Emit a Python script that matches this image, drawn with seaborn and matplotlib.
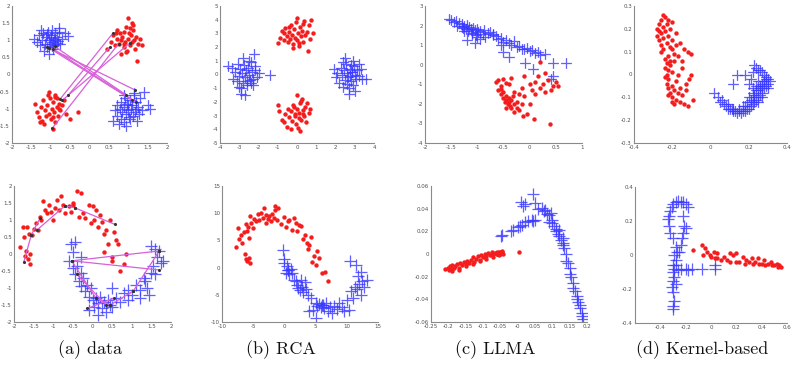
import numpy as np
import pandas as pd
import matplotlib
matplotlib.use("Agg")
import matplotlib.pyplot as plt
import seaborn as sns
from matplotlib.ticker import FormatStrFormatter

# ---------------- DATA ----------------
# (a) data, top: four blobs
a1_blue1_x = [-1.42, -1.35, -1.3, -1.28, -1.22, -1.2, -1.15, -1.12, -1.1, -1.08, -1.05, -1.02, -1.0, -0.98, -0.95, -0.92, -0.9, -0.88, -0.85, -0.82, -0.8, -0.75, -0.7, -0.62, -0.55, -1.18, -1.05, -0.95, -0.9, -1.25, -1.0, -0.85, -1.1, -0.78, -0.97]
a1_blue1_y = [1.05, 0.95, 1.15, 0.85, 1.0, 1.2, 0.9, 1.1, 0.8, 1.25, 1.0, 0.88, 1.15, 1.3, 0.95, 1.05, 1.2, 0.85, 1.1, 0.98, 1.35, 0.9, 1.05, 1.2, 1.12, 0.7, 0.6, 0.75, 1.0, 1.3, 1.08, 0.92, 1.18, 1.25, 0.82]
a1_blue2_x = [0.6, 0.65, 0.7, 0.72, 0.78, 0.8, 0.82, 0.85, 0.88, 0.9, 0.92, 0.95, 0.98, 1.0, 1.02, 1.05, 1.08, 1.1, 1.12, 1.15, 1.18, 1.2, 1.22, 1.25, 1.3, 1.35, 1.4, 1.5, 1.55, 0.75, 0.95, 1.05, 1.15, 1.28, 0.88, 1.0, 1.2]
a1_blue2_y = [-1.35, -1.05, -0.9, -1.2, -1.0, -1.3, -0.8, -1.1, -0.95, -1.4, -0.7, -1.15, -0.85, -1.05, -1.25, -0.75, -1.0, -0.9, -1.2, -0.6, -1.1, -0.8, -1.35, -0.95, -0.7, -1.05, -0.5, -0.9, -1.0, -1.45, -1.5, -1.3, -0.55, -1.15, -0.6, -0.9, -1.0]
a1_red1_x = [0.45, 0.55, 0.6, 0.65, 0.7, 0.72, 0.75, 0.78, 0.8, 0.85, 0.88, 0.9, 0.92, 0.95, 0.98, 1.0, 1.02, 1.05, 1.08, 1.1, 1.12, 1.15, 1.18, 1.2, 1.25, 1.3, 1.35, 0.82, 0.95, 1.05, 1.12, 0.68, 0.9, 1.0, 1.22, 1.1]
a1_red1_y = [0.75, 0.95, 1.15, 0.85, 1.05, 1.3, 0.9, 1.2, 1.0, 1.1, 0.8, 1.25, 0.95, 1.4, 0.7, 1.05, 1.2, 0.85, 1.15, 0.95, 1.3, 1.0, 0.75, 1.1, 0.9, 1.05, 0.85, 0.6, 0.65, 1.35, 1.45, 1.2, 0.9, 1.65, 0.4, 1.5]
a1_red2_x = [-1.4, -1.35, -1.3, -1.25, -1.22, -1.2, -1.15, -1.12, -1.1, -1.05, -1.02, -1.0, -0.98, -0.95, -0.92, -0.9, -0.88, -0.85, -0.82, -0.8, -0.75, -0.7, -0.65, -0.6, -0.5, -0.3, -1.18, -1.08, -0.95, -0.85, -1.28, -1.05, -0.9, -0.78, -0.95]
a1_red2_y = [-0.85, -1.1, -1.25, -0.95, -1.35, -0.75, -1.05, -1.2, -0.9, -1.15, -0.7, -1.3, -1.0, -0.8, -1.1, -1.4, -0.65, -0.95, -1.2, -0.85, -1.05, -0.9, -0.75, -1.15, -1.3, -1.1, -1.45, -0.6, -1.25, -0.7, -1.4, -0.5, -0.6, -1.0, -1.6]
# must-link pairs (x1, y1, x2, y2)
a1_links_x1 = [-1.1, -1.05, -0.95, -0.9, -0.55, -0.76, -0.96, -0.7]
a1_links_y1 = [0.81, 0.78, 0.75, 0.82, -0.6, -0.72, -1.57, -0.75]
a1_links_x2 = [1.17, 1.09, 1.2, 0.95, 0.53, 0.6, 0.75, 1.05]
a1_links_y2 = [-0.45, -0.74, -0.8, -0.6, 0.81, 1.2, 0.9, 0.93]

# (b) RCA, top
b1_blue1_x = [-3.6, -3.4, -3.3, -3.2, -3.1, -3.05, -3.0, -2.95, -2.9, -2.85, -2.8, -2.75, -2.7, -2.65, -2.6, -2.55, -2.5, -2.45, -2.4, -2.35, -2.3, -2.25, -2.2, -2.1, -2.0, -1.4, -2.9, -2.7, -2.5, -2.3, -2.8, -2.6, -3.0, -2.4, -2.2]
b1_blue1_y = [0.6, 0.5, -0.3, 0.2, -0.5, 0.8, -0.1, 0.4, -1.0, 0.1, -0.6, 0.7, -0.2, 0.3, -0.8, 0.5, 0.0, -0.4, 0.9, 0.2, -0.3, 1.5, 0.3, -0.2, 0.1, 0.0, -1.4, -1.5, 1.0, -0.8, 1.2, -0.5, -0.9, -0.6, 0.6]
b1_blue2_x = [1.9, 2.0, 2.1, 2.2, 2.3, 2.35, 2.4, 2.45, 2.5, 2.55, 2.6, 2.65, 2.7, 2.75, 2.8, 2.85, 2.9, 2.95, 3.0, 3.05, 3.1, 3.2, 3.3, 3.4, 3.6, 2.5, 2.7, 2.9, 3.0, 2.8, 2.6, 2.4, 3.2, 2.75, 2.85]
b1_blue2_y = [0.4, -0.2, 0.1, -0.6, 0.5, 0.0, -0.9, 0.3, -0.4, 0.8, 0.1, -0.2, -1.0, 0.4, -0.5, 0.2, -0.8, 0.6, 0.0, -0.3, 0.3, -0.1, 0.4, -0.3, -0.3, 1.2, -1.4, 1.0, -1.2, 0.7, -0.7, 0.9, 0.8, -0.1, 0.15]
b1_red1_x = [-1.0, -0.9, -0.8, -0.7, -0.65, -0.6, -0.5, -0.45, -0.4, -0.35, -0.3, -0.25, -0.2, -0.15, -0.1, -0.05, 0.0, 0.05, 0.1, 0.15, 0.2, 0.25, 0.3, 0.35, 0.4, 0.5, 0.6, 0.7, 0.85, 0.75, -0.2, 0.1, 0.3, -0.4, 0.55, 0.0]
b1_red1_y = [2.3, 2.7, 3.2, 2.5, 3.0, 3.4, 2.8, 2.4, 3.1, 2.6, 3.6, 2.9, 2.2, 3.3, 2.7, 3.8, 2.5, 3.0, 2.1, 3.5, 2.8, 3.2, 2.4, 3.9, 2.9, 3.1, 3.6, 2.6, 3.0, 4.0, 1.9, 2.3, 3.7, 3.5, 1.7, 4.1]
b1_red2_x = [-1.0, -0.95, -0.8, -0.7, -0.6, -0.5, -0.45, -0.4, -0.3, -0.25, -0.2, -0.1, -0.05, 0.0, 0.05, 0.1, 0.15, 0.2, 0.25, 0.3, 0.35, 0.4, 0.45, 0.5, 0.6, 0.7, -0.3, 0.0, 0.2, 0.1, -0.1, 0.3, 0.15, -0.15]
b1_red2_y = [-2.2, -2.7, -3.3, -3.5, -2.9, -3.8, -2.5, -3.1, -2.7, -3.4, -2.2, -2.9, -3.6, -2.5, -3.9, -2.8, -2.1, -3.3, -1.8, -2.6, -3.0, -2.4, -3.5, -2.1, -2.8, -2.5, -4.0, -1.5, -1.9, -3.2, -3.0, -2.9, -4.1, -2.4]

# (c) LLMA, top
c1_blue_x = [-1.55, -1.5, -1.45, -1.4, -1.38, -1.35, -1.3, -1.28, -1.25, -1.22, -1.2, -1.18, -1.15, -1.12, -1.1, -1.08, -1.05, -1.02, -1.0, -0.98, -0.95, -0.9, -0.88, -0.85, -0.8, -0.75, -0.7, -0.65, -0.6, -0.55, -0.5, -0.45, -0.4, -0.35, -0.3, -0.25, -0.2, -0.15, -0.1, -0.05, 0.0, 0.05, 0.1, 0.15, 0.2, 0.3, -0.08, 0.45, 0.7, -0.55, -0.5, -0.4, -0.95, -1.05, -1.2, -0.7, 0.07, 0.45, 0.4, -1.3, -1.25, -1.1, -1.0]
c1_blue_y = [2.35, 2.3, 2.2, 2.25, 2.0, 2.15, 2.1, 1.9, 2.0, 1.8, 2.05, 1.7, 1.95, 1.85, 1.6, 1.9, 1.75, 1.5, 1.8, 1.65, 1.7, 1.55, 1.75, 1.4, 1.6, 1.65, 1.5, 1.45, 1.3, 1.35, 1.15, 1.25, 1.1, 1.0, 1.2, 0.9, 0.95, 0.8, 0.8, 0.85, 0.7, 0.75, 0.6, 0.65, 0.5, 0.55, 0.1, 0.1, 0.1, 1.0, 0.65, 0.4, 1.3, 1.1, 1.25, 1.55, -0.22, -0.6, -0.75, 1.95, 1.7, 1.55, 1.4]
c1_red_x = [-0.65, -0.6, -0.6, -0.55, -0.55, -0.5, -0.5, -0.48, -0.45, -0.45, -0.42, -0.4, -0.4, -0.38, -0.35, -0.35, -0.32, -0.3, -0.3, -0.25, -0.2, -0.2, -0.15, -0.1, -0.05, 0.0, 0.05, 0.1, 0.15, 0.2, 0.25, 0.3, 0.35, 0.4, 0.45, 0.5, 0.55, -0.5, -0.4, -0.35, -0.45, -0.3, -0.25, 0.1, 0.3, -0.12, 0.08, 0.2, 0.38, -0.15, -0.1, 0.0, -0.55, -0.45]
c1_red_y = [-0.9, -1.3, -0.8, -1.5, -1.1, -1.7, -1.4, -1.9, -1.6, -1.8, -2.0, -1.7, -1.9, -2.1, -1.8, -2.2, -1.6, -2.0, -1.4, -1.9, -2.3, -1.5, -1.2, -1.6, -2.5, -1.0, -1.3, -1.5, -0.6, -1.2, -1.0, -1.4, -0.8, -1.3, -1.1, -0.9, -1.1, -0.75, -1.0, -0.7, -2.2, -2.4, -2.2, -0.9, -0.4, -2.6, -2.75, 0.15, -3.05, -2.0, -0.6, -2.0, -1.25, -0.95]

# (d) Kernel-based, top
d1_red1_x = [-0.28, -0.28, -0.27, -0.27, -0.27, -0.26, -0.26, -0.26, -0.25, -0.25, -0.25, -0.24, -0.24, -0.23, -0.23, -0.22, -0.22, -0.21, -0.21, -0.2, -0.2, -0.19, -0.18, -0.17, -0.16, -0.15, -0.14, -0.12, -0.1, -0.25, -0.22, -0.2, -0.26, -0.24, -0.18]
d1_red1_y = [0.2, 0.17, 0.22, 0.19, 0.15, 0.24, 0.18, 0.13, 0.21, 0.16, 0.11, 0.25, 0.19, 0.22, 0.14, 0.24, 0.17, 0.2, 0.12, 0.15, 0.23, 0.09, 0.18, 0.08, 0.14, 0.06, 0.11, 0.1, 0.09, 0.26, 0.08, 0.11, 0.1, 0.07, 0.13]
d1_red2_x = [-0.24, -0.24, -0.23, -0.23, -0.23, -0.22, -0.22, -0.22, -0.21, -0.21, -0.2, -0.2, -0.2, -0.19, -0.19, -0.18, -0.18, -0.17, -0.16, -0.16, -0.15, -0.14, -0.13, -0.12, -0.11, -0.1, -0.09, -0.21, -0.2, -0.17, -0.15, -0.22, -0.19, -0.13]
d1_red2_y = [0.03, -0.01, 0.05, 0.0, -0.04, 0.02, -0.06, -0.02, 0.06, -0.08, 0.01, -0.05, -0.1, 0.06, -0.07, -0.03, -0.11, 0.0, -0.12, -0.06, -0.09, -0.13, -0.04, -0.14, -0.02, 0.0, -0.11, 0.04, -0.12, -0.08, 0.03, -0.09, -0.13, -0.07]
d1_blue_x = [0.02, 0.04, 0.05, 0.06, 0.07, 0.08, 0.09, 0.1, 0.11, 0.12, 0.13, 0.14, 0.15, 0.16, 0.17, 0.18, 0.19, 0.2, 0.21, 0.22, 0.23, 0.24, 0.25, 0.26, 0.27, 0.28, 0.29, 0.3, 0.3, 0.29, 0.28, 0.27, 0.26, 0.25, 0.24, 0.23, 0.22, 0.21, 0.2, 0.22, 0.24, 0.26, 0.18, 0.14, 0.12, 0.25, 0.27, 0.28, 0.23, 0.2, 0.19, 0.17,
             0.09, 0.12, 0.15, 0.18, 0.21, 0.23, 0.25, 0.26, 0.27, 0.28, 0.29, 0.31, 0.3, 0.27, 0.25, 0.24, 0.22, 0.21]
d1_blue_y = [-0.08, -0.1, -0.12, -0.11, -0.13, -0.14, -0.13, -0.15, -0.15, -0.16, -0.16, -0.17, -0.16, -0.17, -0.16, -0.16, -0.15, -0.15, -0.14, -0.13, -0.12, -0.11, -0.1, -0.09, -0.08, -0.06, -0.05, -0.04, -0.02, -0.01, 0.0, 0.01, 0.02, 0.02, 0.03, 0.04, 0.01, -0.02, -0.04, -0.06, -0.07, -0.05, 0.0, 0.0, -0.04, -0.12, -0.1, -0.03, -0.09, -0.1, -0.12, -0.14,
             -0.15, -0.15, -0.15, -0.14, -0.12, -0.1, -0.07, -0.06, -0.04, -0.03, -0.02, -0.03, -0.06, -0.05, -0.03, -0.05, -0.08, -0.11]

# (a) data, bottom: two moons
a2_red_x = [-1.85, -1.78, -1.75, -1.72, -1.7, -1.68, -1.65, -1.62, -1.6, -1.58, -1.55, -1.5, -1.45, -1.4, -1.35, -1.3, -1.25, -1.2, -1.15, -1.1, -1.05, -1.0, -0.95, -0.9, -0.85, -0.8, -0.75, -0.7, -0.6, -0.55, -0.5, -0.4, -0.3, -0.25, -0.2, -0.1, -0.05, 0.0, 0.05, 0.1, 0.15, 0.2, 0.25, 0.3, 0.35, 0.4, 0.5, 0.55, 0.6, 0.65, 0.7, 0.8, 0.85, -0.5, -0.35, 0.3, 0.5, 0.45]
a2_red_y = [0.2, 0.8, 0.5, -0.05, 0.1, 0.8, -0.15, 0.6, 0.0, -0.3, 0.55, 0.75, 0.9, 0.7, 1.1, 1.0, 1.55, 1.3, 1.2, 1.45, 1.25, 1.0, 1.35, 1.6, 1.3, 1.7, 1.45, 1.2, 1.4, 1.25, 1.5, 1.85, 1.8, 1.2, 1.05, 1.45, 0.9, 1.4, 1.0, 1.3, 0.8, 1.15, 0.95, 0.6, 0.7, 0.3, -0.1, 0.65, 0.4, 0.3, -0.5, -0.3, 0.0, 1.45, 1.1, 0.05, -0.2, 1.0]
a2_blue_x = [-0.6, -0.55, -0.5, -0.5, -0.45, -0.4, -0.35, -0.3, -0.3, -0.25, -0.2, -0.15, -0.1, -0.05, 0.0, 0.05, 0.1, 0.15, 0.2, 0.25, 0.3, 0.35, 0.4, 0.45, 0.5, 0.6, 0.7, 0.8, 0.9, 1.0, 1.1, 1.2, 1.3, 1.4, 1.5, 1.55, 1.6, 1.65, 1.7, 1.75, 1.8, 1.5, 1.45, 1.35, -0.45, -0.3, -0.1, 0.5, 0.9, 1.2, 1.6, 0.15]
a2_blue_y = [-0.2, 0.3, 0.05, -0.4, -0.6, -0.35, -0.8, -0.55, -0.95, -0.7, -1.1, -0.9, -1.25, -1.0, -1.35, -1.55, -1.3, -1.45, -1.25, -1.6, -1.4, -1.7, -1.35, -1.5, -1.55, -1.3, -1.4, -1.15, -1.35, -1.2, -0.9, -1.3, -0.7, -1.0, -0.55, -0.35, -0.6, -0.1, 0.1, -0.25, -0.2, 0.25, -1.2, -0.8, 0.35, -0.1, -1.65, -1.0, -1.05, -1.05, 0.15, -1.8]
a2_links_x1 = [-1.75, -1.56, -1.42, -0.7, -0.45, -0.53, -0.53, 1.7, 1.04, -0.53, -0.4, -0.13, 0.09]
a2_links_y1 = [-0.24, 0.56, 0.7, 1.42, 1.36, -0.2, -0.2, 0.09, -1.09, -0.2, -0.6, -1.6, -1.3]
a2_links_x2 = [-1.56, -1.34, -0.7, -0.45, 0.57, 1.7, 1.7, 1.04, 0.45, 0.09, 0.35, 0.55, 0.45]
a2_links_y2 = [0.56, 1.05, 1.42, 1.36, 0.87, 0.09, -0.47, -1.09, -1.5, -1.3, -1.5, -1.3, -1.5]

# (b) RCA, bottom
b2_red_x = [-7.8, -7.5, -7.2, -7.0, -6.8, -6.5, -6.3, -6.1, -6.0, -5.8, -5.6, -5.5, -5.3, -5.0, -4.8, -4.5, -4.2, -4.0, -3.7, -3.5, -3.2, -3.0, -2.7, -2.5, -2.2, -2.0, -1.7, -1.5, -1.2, -1.0, -0.5, 0.0, 0.3, 0.5, 0.8, 1.2, 1.5, 1.8, 2.0, 2.3, 2.6, 3.0, 3.3, 3.6, 3.8, 4.0, 4.2, 4.5, 4.8, 5.0, 5.3, 5.5, 6.0, 6.5, 7.0, -6.2, -5.7, -6.0, -5.5, -1.5, -3.0]
b2_red_y = [3.8, 7.2, 5.3, 6.0, 4.5, 6.5, 2.5, 8.0, 6.8, 7.5, 5.5, 9.5, 8.2, 7.3, 9.0, 8.5, 9.8, 8.8, 10.0, 9.2, 11.0, 9.6, 9.0, 9.4, 8.5, 9.8, 9.2, 11.4, 8.7, 10.9, 8.0, 9.3, 7.5, 8.5, 8.8, 7.0, 9.1, 8.2, 6.8, 7.8, 7.6, 5.2, 6.0, 4.5, 3.5, 4.2, 5.6, 1.0, 2.2, 0.5, 3.0, 1.8, -1.0, -0.8, -2.5, 1.5, 1.8, 1.2, 0.8, 10.5, 8.2]
b2_blue_x = [-0.2, -0.1, 0.0, 0.2, 0.4, 0.6, 0.8, 1.0, 1.2, 1.5, 1.8, 2.0, 2.2, 2.5, 2.8, 3.0, 3.3, 3.5, 3.8, 4.0, 4.3, 4.6, 5.0, 5.2, 5.5, 5.8, 6.0, 6.3, 6.6, 7.0, 7.3, 7.6, 8.0, 8.4, 8.8, 9.2, 9.6, 10.0, 10.3, 10.6, 11.0, 11.3, 11.6, 12.0, 12.2, 12.5, 12.8, 13.2, 11.8, 11.5, 12.3, 10.5, 5.0, 0.5, 2.7, 6.2]
b2_blue_y = [3.3, 1.5, 0.8, -1.0, 0.3, -0.5, -1.2, -0.2, -1.0, -2.2, -2.5, -3.2, -3.8, -4.2, -3.5, -4.5, -2.6, -4.0, -5.0, -8.0, -5.5, -7.8, -6.5, -7.0, -6.6, -7.2, -6.8, -7.5, -6.5, -8.0, -7.3, -8.4, -7.0, -7.6, -6.5, -7.3, -8.0, -6.0, -7.8, -4.3, -5.5, -3.5, -4.0, -3.0, -5.0, -2.5, -3.6, -2.2, -1.5, 0.5, -0.8, 1.3, -9.3, -0.5, -2.3, -6.9]

# (c) LLMA, bottom
c2_red_x = [-0.21, -0.2, -0.198, -0.195, -0.19, -0.188, -0.185, -0.18, -0.175, -0.17, -0.165, -0.16, -0.155, -0.15, -0.145, -0.14, -0.135, -0.13, -0.125, -0.12, -0.115, -0.11, -0.105, -0.1, -0.095, -0.09, -0.085, -0.08, -0.075, -0.07, -0.065, -0.06, -0.055, -0.05, -0.045, -0.042, -0.045, -0.048, -0.05, -0.055, -0.06, 0.005, -0.13, -0.11, -0.09, -0.07, -0.15, -0.17, -0.06, -0.05, -0.19]
c2_red_y = [-0.013, -0.012, -0.014, -0.011, -0.013, -0.01, -0.012, -0.011, -0.009, -0.012, -0.008, -0.01, -0.007, -0.009, -0.006, -0.008, -0.005, -0.003, -0.007, -0.004, -0.002, -0.005, -0.001, -0.003, 0.0, -0.002, 0.001, -0.001, 0.002, 0.0, 0.001, 0.002, -0.001, 0.001, 0.003, 0.0, 0.002, 0.001, 0.0, 0.002, 0.0, 0.002, -0.009, -0.006, -0.004, -0.003, -0.011, -0.014, 0.0, 0.002, -0.015]
c2_blue_x = [-0.048, -0.045, -0.02, -0.013, 0.0, 0.008, 0.013, 0.02, 0.03, 0.04, 0.045, 0.05, 0.045, 0.01, 0.015, 0.02, 0.05, 0.06, 0.07, 0.075, 0.08, 0.085, 0.09, 0.095, 0.1, 0.1, 0.105, 0.11, 0.11, 0.115, 0.12, 0.125, 0.13, 0.13, 0.135, 0.14, 0.14, 0.145, 0.15, 0.15, 0.155, 0.16, 0.16, 0.165, 0.17, 0.17, 0.175, 0.18, 0.18, 0.185, 0.185, 0.188, 0.09, 0.12, 0.13]
c2_blue_y = [0.016, 0.017, 0.02, 0.021, 0.024, 0.025, 0.026, 0.028, 0.029, 0.03, 0.029, 0.03, 0.053, 0.046, 0.042, 0.044, 0.045, 0.04, 0.041, 0.038, 0.039, 0.035, 0.034, 0.036, 0.03, 0.027, 0.025, 0.022, 0.02, 0.018, 0.016, 0.012, 0.01, 0.008, 0.005, 0.0, -0.006, -0.008, -0.012, -0.018, -0.02, -0.026, -0.03, -0.033, -0.037, -0.04, -0.042, -0.045, -0.048, -0.052, -0.055, -0.057, 0.028, 0.021, 0.014]

# (d) Kernel-based, bottom
d2_blue_x = [-0.3, -0.3, -0.29, -0.3, -0.31, -0.3, -0.29, -0.3, -0.29, -0.28, -0.28, -0.29, -0.27, -0.28, -0.3, -0.32, -0.33, -0.34, -0.33, -0.32, -0.31, -0.3, -0.28, -0.26, -0.24, -0.22, -0.2, -0.18, -0.22, -0.21, -0.2, -0.22, -0.23, -0.24, -0.25, -0.2, -0.18, -0.15, -0.07, 0.03, 0.03, -0.24, -0.26, -0.3, -0.28]
d2_blue_y = [-0.32, -0.3, -0.27, -0.22, -0.19, -0.15, -0.13, -0.1, -0.08, -0.06, -0.03, 0.0, 0.02, 0.05, 0.1, 0.13, 0.17, 0.21, 0.23, 0.26, 0.28, 0.3, 0.31, 0.32, 0.31, 0.31, 0.3, 0.28, 0.23, 0.17, 0.16, 0.13, 0.1, 0.06, 0.02, -0.08, -0.09, -0.08, -0.08, -0.06, -0.08, -0.08, -0.09, -0.06, -0.17]
d2_red_x = [-0.14, -0.07, -0.06, -0.05, -0.03, -0.01, 0.0, 0.02, 0.03, 0.05, 0.05, 0.08, 0.1, 0.13, 0.15, 0.15, 0.17, 0.2, 0.2, 0.22, 0.25, 0.27, 0.28, 0.3, 0.32, 0.33, 0.35, 0.37, 0.38, 0.4, 0.42, 0.43, 0.45, 0.47, 0.48, 0.5, 0.52, 0.53, 0.55, 0.54]
d2_red_y = [0.03, 0.06, 0.0, 0.04, 0.02, 0.0, -0.01, 0.02, -0.02, 0.01, -0.02, -0.03, -0.01, -0.03, 0.01, -0.04, 0.0, -0.04, 0.01, -0.04, -0.01, -0.05, -0.03, -0.04, -0.02, -0.05, -0.04, -0.02, -0.05, -0.05, -0.03, -0.06, -0.05, -0.04, -0.06, -0.06, -0.05, -0.07, -0.07, -0.06]

captions = ["(a) data", "(b) RCA", "(c) LLMA", "(d) Kernel-based"]

# ---------------- STYLE ----------------
sns.set_style("white")
plt.rcParams["font.family"] = ["DejaVu Sans"]

BLUE = "#3838ff"
RED = "#f41c1c"
LINK = "#d860d8"

fig = plt.figure(figsize=(7.94, 3.67), dpi=100)
W, H = 794.0, 367.0


def make_ax(left, right, top, bottom):
    return fig.add_axes([left / W, 1 - bottom / H, (right - left) / W, (bottom - top) / H])


def style_ax(ax, xlim, ylim, xticks, yticks):
    ax.set_xlim(*xlim)
    ax.set_ylim(*ylim)
    ax.set_xticks(xticks)
    ax.set_yticks(yticks)
    ax.xaxis.set_major_formatter(FormatStrFormatter("%g"))
    ax.yaxis.set_major_formatter(FormatStrFormatter("%g"))
    ax.tick_params(labelsize=4, colors="#505050", direction="in", length=2, width=0.5, pad=1.5)
    sns.despine(ax=ax)
    for s in ["left", "bottom"]:
        ax.spines[s].set_color("#8a8a8a")
        ax.spines[s].set_linewidth(0.8)
    ax.set_xlabel("")
    ax.set_ylabel("")


def blue_plus(ax, x, y, s=60):
    df = pd.DataFrame({"x": x, "y": y})
    n = len(ax.collections)
    sns.scatterplot(data=df, x="x", y="y", marker="+", color=BLUE,
                    s=s, linewidth=0.9, alpha=0.8, ax=ax, legend=False)
    # no pixel snapping: keeps every '+' the same soft blue
    for coll in ax.collections[n:]:
        coll.set_snap(False)


def red_dot(ax, x, y, s=10):
    df = pd.DataFrame({"x": x, "y": y})
    sns.scatterplot(data=df, x="x", y="y", marker="o", color=RED, s=s, linewidth=0, ax=ax, legend=False)


def links(ax, x1, y1, x2, y2):
    for a, b, c, d in zip(x1, y1, x2, y2):
        ax.plot([a, c], [b, d], color=LINK, lw=0.9, zorder=3)
    sns.scatterplot(x=list(x1) + list(x2), y=list(y1) + list(y2), color="#333333", s=5,
                    linewidth=0, ax=ax, legend=False, zorder=4)


# ---- top row ----
ax = make_ax(12, 167, 6, 143)
blue_plus(ax, a1_blue1_x, a1_blue1_y)
blue_plus(ax, a1_blue2_x, a1_blue2_y)
red_dot(ax, a1_red1_x, a1_red1_y)
red_dot(ax, a1_red2_x, a1_red2_y)
links(ax, a1_links_x1, a1_links_y1, a1_links_x2, a1_links_y2)
style_ax(ax, (-2, 2), (-2, 2), np.arange(-2, 2.01, 0.5), np.arange(-2, 2.01, 0.5))

ax = make_ax(220, 374, 6, 143)
blue_plus(ax, b1_blue1_x, b1_blue1_y)
blue_plus(ax, b1_blue2_x, b1_blue2_y)
red_dot(ax, b1_red1_x, b1_red1_y)
red_dot(ax, b1_red2_x, b1_red2_y)
style_ax(ax, (-4, 4), (-5, 5), np.arange(-4, 4.01, 1), np.arange(-5, 5.01, 1))

ax = make_ax(425, 582, 6, 143)
blue_plus(ax, c1_blue_x, c1_blue_y)
red_dot(ax, c1_red_x, c1_red_y)
style_ax(ax, (-2, 1), (-4, 3), np.arange(-2, 1.01, 0.5), np.arange(-4, 3.01, 1))

ax = make_ax(634, 787, 6, 143)
blue_plus(ax, d1_blue_x, d1_blue_y)
red_dot(ax, d1_red1_x, d1_red1_y)
red_dot(ax, d1_red2_x, d1_red2_y)
style_ax(ax, (-0.4, 0.4), (-0.3, 0.3), np.round(np.arange(-0.4, 0.41, 0.2), 2), np.round(np.arange(-0.3, 0.31, 0.1), 2))

# ---- bottom row ----
ax = make_ax(14, 171, 186, 322)
blue_plus(ax, a2_blue_x, a2_blue_y, s=75)
red_dot(ax, a2_red_x, a2_red_y)
links(ax, a2_links_x1, a2_links_y1, a2_links_x2, a2_links_y2)
style_ax(ax, (-2, 2), (-2, 2), np.arange(-2, 2.01, 0.5), np.arange(-2, 2.01, 0.5))

ax = make_ax(222, 378, 186, 322)
blue_plus(ax, b2_blue_x, b2_blue_y, s=75)
red_dot(ax, b2_red_x, b2_red_y)
style_ax(ax, (-10, 15), (-10, 15), np.arange(-10, 15.1, 5), np.arange(-10, 15.1, 5))

ax = make_ax(431, 587, 186, 322)
blue_plus(ax, c2_blue_x, c2_blue_y, s=75)
red_dot(ax, c2_red_x, c2_red_y)
style_ax(ax, (-0.25, 0.2), (-0.06, 0.06), np.round(np.arange(-0.25, 0.201, 0.05), 2), np.round(np.arange(-0.06, 0.061, 0.02), 2))

ax = make_ax(635, 787, 187, 323)
blue_plus(ax, d2_blue_x, d2_blue_y, s=75)
red_dot(ax, d2_red_x, d2_red_y)
style_ax(ax, (-0.6, 0.6), (-0.4, 0.4), np.round(np.arange(-0.4, 0.61, 0.2), 2), np.round(np.arange(-0.4, 0.41, 0.2), 2))

# ---- captions ----
for cx, txt in zip([90, 281, 495, 702], captions):
    fig.text(cx / W, 1 - 350 / H, txt, ha="center", va="center", fontsize=13, family="cmr10", color="#111111")

fig.savefig("out.png", dpi=100)
